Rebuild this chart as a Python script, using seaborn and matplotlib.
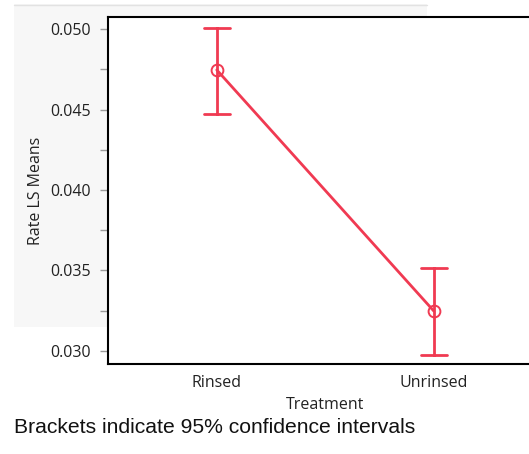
import numpy as np
import pandas as pd
import matplotlib
matplotlib.use("Agg")
import matplotlib.pyplot as plt
from matplotlib.patches import Rectangle
import seaborn as sns

# ---- data ----
treatments = ["Rinsed", "Unrinsed"]
ls_means = [0.04747, 0.03247]
ci_lower = [0.04472, 0.02973]
ci_upper = [0.05008, 0.03515]
y_ticks = [0.030, 0.035, 0.040, 0.045, 0.050]
y_tick_labels = ["0.030", "0.035", "0.040", "0.045", "0.050"]

# long-form table: lower / mean / upper per treatment
rows = []
for t, lo, m, hi in zip(treatments, ci_lower, ls_means, ci_upper):
    for v in (lo, m, hi):
        rows.append({"Treatment": t, "Rate": v})
df = pd.DataFrame(rows)

sns.set_theme(style="white")
plt.rcParams["font.family"] = ["Open Sans", "DejaVu Sans"]

W, H = 529, 454
fig = plt.figure(figsize=(W / 100, H / 100), dpi=100)

# light gray report panel behind the plot
fig.patches.append(Rectangle((14 / W, 1 - 327 / H), (427 - 14) / W, (327 - 4) / H,
                             transform=fig.transFigure, facecolor="#f7f7f7",
                             edgecolor="none", zorder=-5))
fig.lines.append(plt.Line2D([14 / W, 427 / W], [1 - 4.5 / H, 1 - 4.5 / H],
                            transform=fig.transFigure, color="#e2e2e2", lw=1, zorder=-4))

ax = fig.add_axes([108.3 / W, 1 - 364.3 / H, 434 / W, (364.3 - 16.7) / H])
ax.set_zorder(2)
ax.set_facecolor("white")

red = "#F03A52"
sns.pointplot(data=df, x="Treatment", y="Rate", order=treatments,
              estimator=np.median, errorbar=lambda v: (v.min(), v.max()),
              color=red, capsize=0.12, linewidth=2.0, err_kws={"linewidth": 2.0},
              markers="o", markersize=8.5, markerfacecolor="none",
              markeredgewidth=1.4, ax=ax)

ax.set_xlim(-0.5, 1.5)
ax.set_ylim(0.029154, 0.050784)
ax.set_yticks(y_ticks)
ax.set_yticklabels(y_tick_labels)
ax.set_yticks([0.0325, 0.0375, 0.0425, 0.0475], minor=True)

for s in ax.spines.values():
    s.set_color("black")
    s.set_linewidth(1.5)

ax.tick_params(axis="y", which="both", left=True, length=5.8, width=1,
               color="#9a9a9a", labelsize=11.5, labelcolor="#222222", pad=6.5)
ax.tick_params(axis="x", bottom=False, labelsize=11.5, labelcolor="#222222", pad=2)

ax.set_xlabel("Treatment", fontsize=11.5, color="#222222", labelpad=4)
ax.set_ylabel("Rate LS Means", fontsize=11.5, color="#222222", labelpad=5)

fig.text(14 / W, 1 - 433 / H, "Brackets indicate 95% confidence intervals",
         fontsize=15.2, family=["Liberation Sans", "DejaVu Sans"], color="#111111",
         ha="left", va="baseline")

fig.savefig("out.png", dpi=100)
